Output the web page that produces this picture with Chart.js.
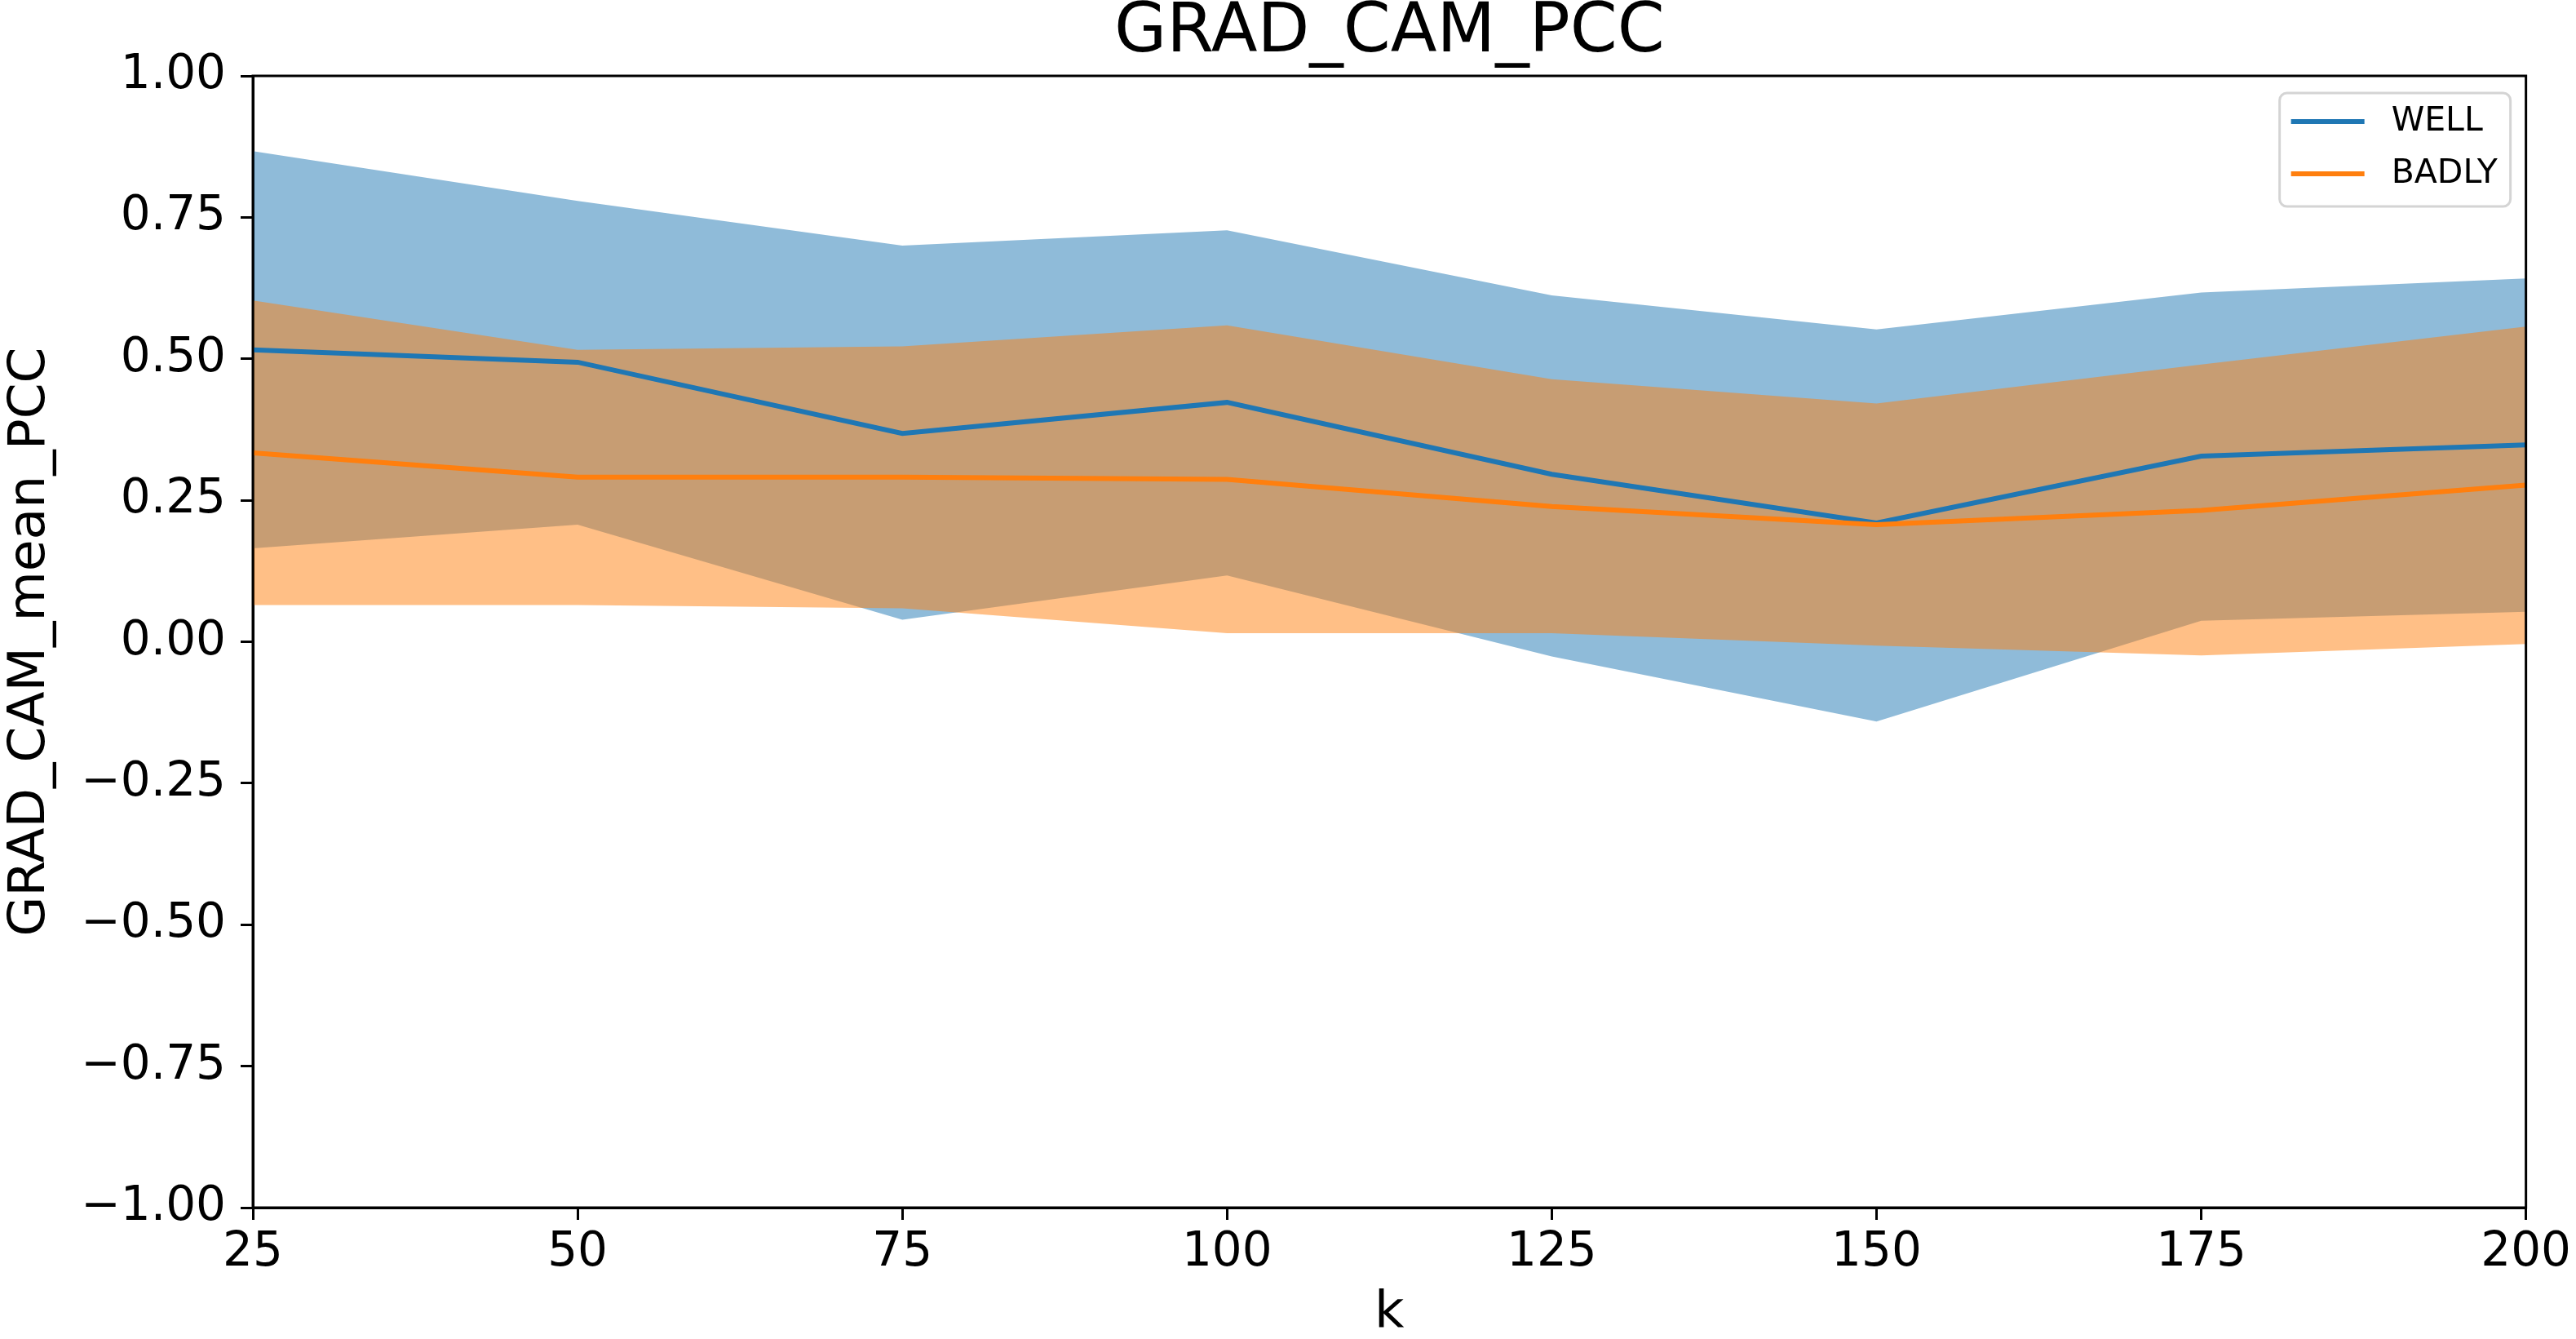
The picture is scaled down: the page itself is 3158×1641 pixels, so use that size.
<!DOCTYPE html>
<html>
<head>
<meta charset="utf-8">
<title>GRAD_CAM_PCC</title>
<script src="https://cdn.jsdelivr.net/npm/chart.js@4.4.1/dist/chart.umd.min.js"></script>
<style>
  html, body { margin: 0; padding: 0; background: #fff; }
  #wrap { width: 3158px; height: 1641px; }
</style>
</head>
<body>
<div id="wrap"><canvas id="pcc-chart"></canvas></div>
<script>
(function() {
	'use strict';

	// valores
	var kValues = [25, 50, 75, 100, 125, 150, 175, 200];
	var wellMean  = [0.516, 0.494, 0.368, 0.423, 0.296, 0.210, 0.328, 0.348];
	var wellUpper = [0.867, 0.779, 0.700, 0.727, 0.612, 0.552, 0.617, 0.642];
	var wellLower = [0.165, 0.207, 0.039, 0.117, -0.026, -0.141, 0.037, 0.053];
	var badlyMean  = [0.334, 0.291, 0.291, 0.287, 0.239, 0.207, 0.232, 0.277];
	var badlyUpper = [0.603, 0.516, 0.522, 0.559, 0.464, 0.421, 0.490, 0.557];
	var badlyLower = [0.065, 0.065, 0.059, 0.015, 0.015, -0.007, -0.024, -0.004];
	var seriesNames = ['WELL', 'BADLY'];

	var blue = '#1f77b4';
	var orange = '#ff7f0e';

	function pts(values) {
		return values.map(function(v, i) { return { x: kValues[i], y: v }; });
	}

	Chart.defaults.font.family = "'DejaVu Sans', sans-serif";
	Chart.defaults.color = '#000';

	// moldura completa do eixo (como no matplotlib)
	var frame = {
		id: 'frame',
		afterDatasetsDraw: function(chart) {
			var a = chart.chartArea, c = chart.ctx;
			c.save();
			c.strokeStyle = '#000';
			c.lineWidth = 3;
			c.strokeRect(a.left, a.top, a.right - a.left, a.bottom - a.top);
			c.restore();
		}
	};

	// legenda no canto superior direito
	var boxLegend = {
		id: 'boxLegend',
		afterDraw: function(chart) {
			var c = chart.ctx, a = chart.chartArea;
			var w = 283, h = 139;
			var x = a.right - 19 - w, y = a.top + 21;
			c.save();
			c.fillStyle = 'rgba(255,255,255,0.8)';
			c.strokeStyle = '#d4d4d4';
			c.lineWidth = 3;
			c.beginPath();
			c.roundRect(x, y, w, h, 9);
			c.fill();
			c.stroke();
			var items = [chart.data.datasets[0], chart.data.datasets[1]];
			c.font = "41px 'DejaVu Sans'";
			c.textBaseline = 'middle';
			items.forEach(function(ds, i) {
				var yy = y + 35 + i * 64;
				c.strokeStyle = ds.borderColor;
				c.lineWidth = 6;
				c.beginPath();
				c.moveTo(x + 14, yy);
				c.lineTo(x + 104, yy);
				c.stroke();
				c.fillStyle = '#000';
				c.fillText(ds.label, x + 137, yy);
			});
			c.restore();
		}
	};

	var ctx = document.getElementById('pcc-chart');

	new Chart(ctx, {
		type: 'line',
		data: {
			datasets: [
				{ label: seriesNames[0], data: pts(wellMean), borderColor: blue, borderWidth: 6, pointRadius: 0, fill: false, order: 1 },
				{ label: seriesNames[1], data: pts(badlyMean), borderColor: orange, borderWidth: 6, pointRadius: 0, fill: false, order: 0 },
				{ label: 'well_low', data: pts(wellLower), borderWidth: 0, pointRadius: 0, fill: false, order: 5 },
				{ label: 'well_high', data: pts(wellUpper), borderWidth: 0, pointRadius: 0, fill: { target: 2 }, backgroundColor: 'rgba(31,119,180,0.5)', order: 4 },
				{ label: 'badly_low', data: pts(badlyLower), borderWidth: 0, pointRadius: 0, fill: false, order: 3 },
				{ label: 'badly_high', data: pts(badlyUpper), borderWidth: 0, pointRadius: 0, fill: { target: 4 }, backgroundColor: 'rgba(255,127,14,0.5)', order: 2 }
			]
		},
		options: {
			responsive: true,
			maintainAspectRatio: false,
			devicePixelRatio: 1,
			animation: false,
			layout: { padding: { left: 0, right: 60, top: 0, bottom: 0 } },
			elements: { line: { tension: 0 } },
			plugins: {
				legend: { display: false },
				tooltip: { enabled: false },
				title: { display: false }
			},
			scales: {
				// eixo de cima só para centrar o título sobre a área do gráfico
				top: {
					type: 'linear',
					position: 'top',
					min: 25,
					max: 200,
					afterFit: function(s) { s.height = 93; },
					ticks: { display: false },
					grid: { display: false },
					border: { display: false },
					title: { display: true, text: 'GRAD_CAM_PCC', font: { size: 83, lineHeight: 1 }, padding: { top: 0, bottom: 0 } }
				},
				x: {
					type: 'linear',
					min: 25,
					max: 200,
					afterFit: function(s) { s.height = 161; },
					ticks: { stepSize: 25, font: { size: 58 }, padding: 6, maxRotation: 0 },
					grid: { drawOnChartArea: false, drawTicks: true, tickLength: 15, color: '#000', lineWidth: 3 },
					border: { display: true, color: '#000', width: 3 },
					title: { display: true, text: 'k', font: { size: 63, lineHeight: 1 }, padding: { top: 0, bottom: 0 } }
				},
				y: {
					type: 'linear',
					min: -1,
					max: 1,
					afterFit: function(s) { s.width = 310; },
					ticks: {
						stepSize: 0.25,
						font: { size: 58 },
						padding: 18,
						callback: function(v) { return (v < -1e-9 ? '\u2212' : '') + Math.abs(v).toFixed(2); }
					},
					grid: { drawOnChartArea: false, drawTicks: true, tickLength: 15, color: '#000', lineWidth: 3 },
					border: { display: true, color: '#000', width: 3 },
					title: { display: true, text: 'GRAD_CAM_mean_PCC', font: { size: 63, lineHeight: 1 }, padding: { top: 6, bottom: 0 } }
				}
			}
		},
		plugins: [frame, boxLegend]
	});
})();
</script>
</body>
</html>
